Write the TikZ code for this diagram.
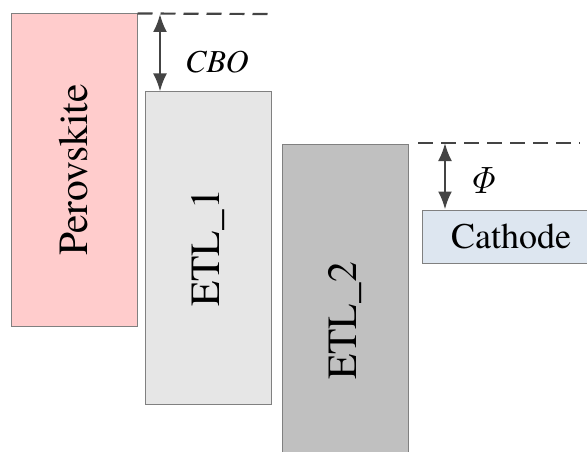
\RequirePackage{fix-cm}
\documentclass[tikz,border=0pt]{standalone}
\usepackage[no-math]{fontspec}
\setmainfont{texgyretermes}[Extension=.otf, UprightFont=*-regular, ItalicFont=*-italic]
\definecolor{perovpink}{RGB}{255,204,204}
\definecolor{etlonegray}{RGB}{230,230,230}
\definecolor{etltwogray}{RGB}{192,192,192}
\definecolor{cathodeblue}{RGB}{221,230,240}
\definecolor{edgegray}{RGB}{128,128,128}
\definecolor{markgray}{RGB}{68,68,68}
\usetikzlibrary{arrows.meta,positioning}

\begin{document}
\begin{tikzpicture}[x=1pt, y=-1pt,
		layer/.style={draw=edgegray, line width=1pt, inner sep=0pt,
			minimum width=126pt, font=\fontsize{41.5}{43}\selectfont},
		level/.style={markgray, line width=2.2pt, dash pattern=on 15pt off 8pt},
		gap/.style={{Latex[length=18pt,width=14pt]}-{Latex[length=18pt,width=14pt]},
			markgray, line width=2.5pt},
		glab/.style={font=\itshape\fontsize{32}{34}\selectfont}
	]
		\useasboundingbox (0,0) rectangle (587,452);
		\begin{scope}
			\clip (0,0) rectangle (587,452);
			\node[layer, fill=perovpink, minimum height=312pt] (perov) at (74,170) {\rotatebox{90}{Perovskite}};
			\node[layer, fill=etlonegray, minimum height=312pt] (etl1) at (208,248) {\rotatebox{90}{ETL\_1}};
			\node[layer, fill=etltwogray, minimum height=354pt] (etl2) at (345.5,321) {\rotatebox{90}{ETL\_2}};
			\node[layer, fill=cathodeblue, minimum width=178pt, minimum height=53pt,
				font=\fontsize{36}{38}\selectfont] (cath) at (511,236.5) {Cathode};
		\end{scope}
		% band offsets
		\coordinate (cboend) at (268,14);
		\coordinate (cbotop) at (160,14);
		\draw[level] (perov.north east) -- (cboend);
		\draw[gap] (cbotop) -- (cbotop |- etl1.north);
		\node[glab] (cbo) at (217,62) {CBO};
		\coordinate (wfstart) at (418,143);
		\coordinate (wfend) at (580,143);
		\coordinate (wftop) at (445,143);
		\draw[level] (wfstart) -- (wfend);
		\draw[gap] (wftop) -- (wftop |- cath.north);
		\node[glab, font=\fontsize{38}{40}\selectfont] (phi) at (482,181) {$\mathit{\Phi}$};
	\end{tikzpicture}
\end{document}
